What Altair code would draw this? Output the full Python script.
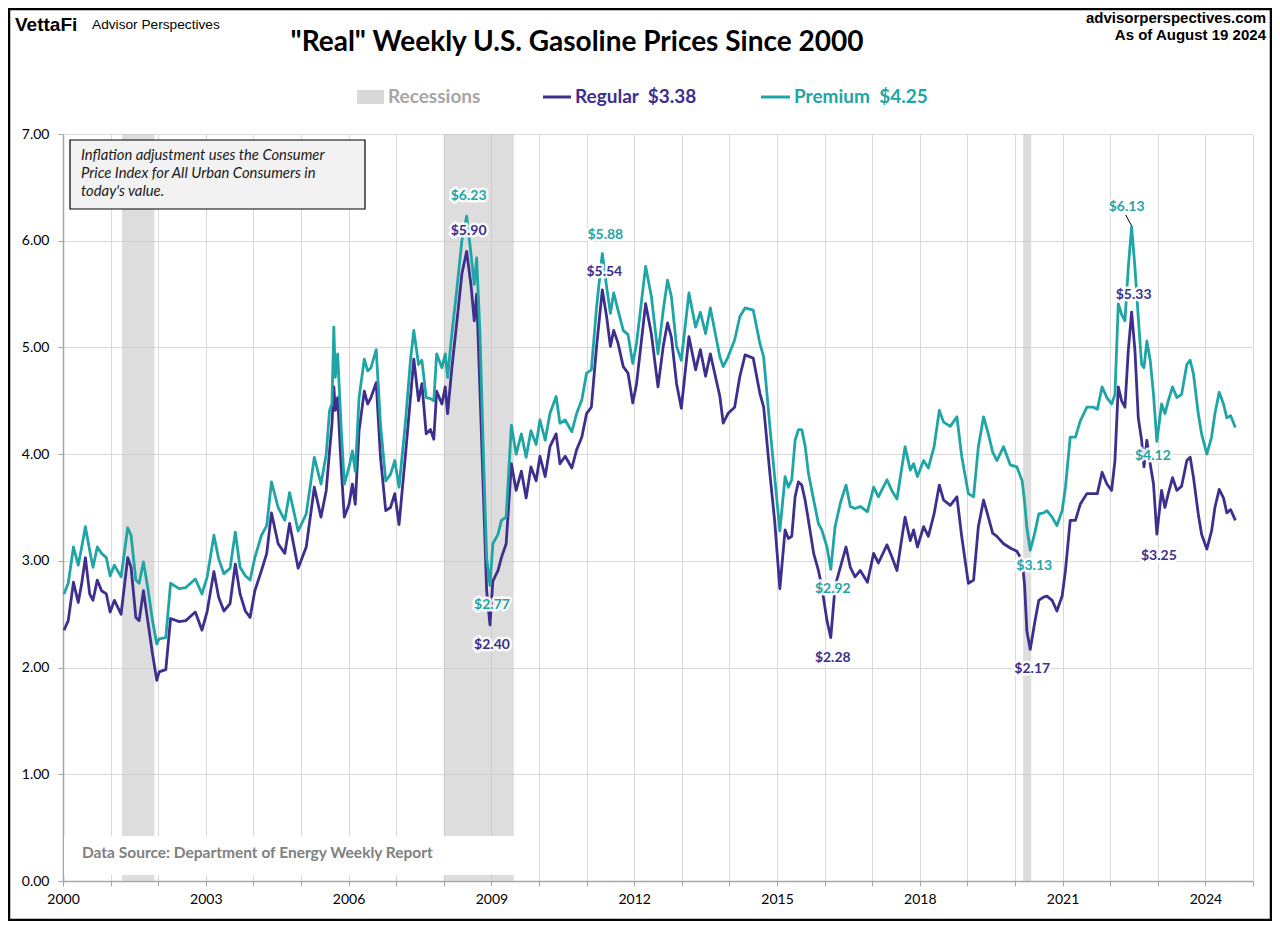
import altair as alt
import pandas as pd

# ---------------- data ----------------
years = [
    2000.02, 2000.11, 2000.22, 2000.32, 2000.39, 2000.47, 2000.56, 2000.63, 2000.72, 2000.81,
    2000.91, 2000.99, 2001.08, 2001.22, 2001.36, 2001.43, 2001.53, 2001.60, 2001.69, 2001.78,
    2001.88, 2001.97, 2002.02, 2002.16, 2002.26, 2002.44, 2002.58, 2002.78, 2002.92, 2003.03,
    2003.17, 2003.27, 2003.38, 2003.51, 2003.62, 2003.72, 2003.83, 2003.93, 2004.03, 2004.17,
    2004.28, 2004.38, 2004.52, 2004.66, 2004.76, 2004.94,
    2005.11, 2005.28, 2005.42, 2005.53, 2005.60, 2005.65, 2005.69, 2005.72, 2005.77, 2005.84,
    2005.91, 2006.01, 2006.08, 2006.14, 2006.22, 2006.33, 2006.40, 2006.47, 2006.58, 2006.67,
    2006.78, 2006.88, 2006.97, 2007.06, 2007.19, 2007.30, 2007.37, 2007.47, 2007.54, 2007.63,
    2007.72, 2007.79, 2007.85, 2007.96, 2008.03, 2008.08, 2008.17, 2008.27, 2008.38, 2008.48,
    2008.57, 2008.64, 2008.69, 2008.76, 2008.83, 2008.90, 2008.97, 2009.03, 2009.14, 2009.21,
    2009.31, 2009.42, 2009.52, 2009.63, 2009.73, 2009.83, 2009.94,
    2010.02, 2010.13, 2010.23, 2010.36, 2010.44, 2010.55, 2010.69, 2010.79, 2010.90, 2011.00,
    2011.10, 2011.21, 2011.33, 2011.42, 2011.50, 2011.57, 2011.66, 2011.77, 2011.87, 2011.97,
    2012.05, 2012.24, 2012.36, 2012.50, 2012.61, 2012.70, 2012.78, 2012.89, 2012.99, 2013.15,
    2013.29, 2013.39, 2013.50, 2013.60, 2013.69, 2013.80, 2013.87, 2013.97, 2014.11, 2014.22,
    2014.33, 2014.50, 2014.64, 2014.72, 2014.85, 2014.95,
    2015.06, 2015.17, 2015.24, 2015.31, 2015.38, 2015.45, 2015.52, 2015.59, 2015.66, 2015.77,
    2015.87, 2015.94, 2016.05, 2016.13, 2016.22, 2016.33, 2016.45, 2016.54, 2016.64, 2016.75,
    2016.90, 2017.03, 2017.13, 2017.31, 2017.41, 2017.52, 2017.69, 2017.80, 2017.87, 2017.95,
    2018.08, 2018.18, 2018.30, 2018.41, 2018.50, 2018.64, 2018.78, 2018.88, 2019.02, 2019.13,
    2019.23, 2019.34, 2019.44, 2019.53, 2019.62, 2019.76, 2019.90,
    2020.04, 2020.15, 2020.20, 2020.25, 2020.32, 2020.41, 2020.50, 2020.60, 2020.67, 2020.78,
    2020.88, 2020.99, 2021.06, 2021.16, 2021.27, 2021.37, 2021.51, 2021.65, 2021.73, 2021.83,
    2021.93, 2022.03, 2022.10, 2022.17, 2022.24, 2022.31, 2022.38, 2022.45, 2022.52, 2022.59,
    2022.66, 2022.71, 2022.77, 2022.84, 2022.91, 2022.98, 2023.08, 2023.15, 2023.22, 2023.31,
    2023.40, 2023.50, 2023.61, 2023.68, 2023.75, 2023.85, 2023.92, 2024.03, 2024.13, 2024.20,
    2024.29, 2024.38, 2024.45, 2024.53, 2024.63,
]

regular = [
    2.35, 2.44, 2.80, 2.61, 2.78, 3.03, 2.69, 2.63, 2.82, 2.72,
    2.69, 2.52, 2.63, 2.50, 3.03, 2.94, 2.47, 2.44, 2.72, 2.44,
    2.13, 1.88, 1.96, 1.98, 2.46, 2.43, 2.44, 2.52, 2.35, 2.53,
    2.90, 2.66, 2.53, 2.60, 2.97, 2.69, 2.53, 2.47, 2.72, 2.91,
    3.07, 3.45, 3.16, 3.07, 3.35, 2.93,
    3.13, 3.69, 3.41, 3.66, 4.03, 4.28, 4.63, 4.41, 4.53, 3.91,
    3.41, 3.53, 3.72, 3.53, 4.22, 4.59, 4.47, 4.53, 4.67, 3.97,
    3.47, 3.50, 3.63, 3.34, 3.97, 4.53, 4.89, 4.50, 4.66, 4.19,
    4.23, 4.14, 4.59, 4.47, 4.63, 4.38, 4.81, 5.22, 5.69, 5.90,
    5.59, 5.25, 5.50, 4.59, 3.66, 2.72, 2.40, 2.81, 2.91, 3.03,
    3.16, 3.91, 3.66, 3.84, 3.59, 3.88, 3.75,
    3.98, 3.79, 4.07, 4.19, 3.91, 3.98, 3.87, 4.04, 4.16, 4.38,
    4.44, 5.01, 5.54, 5.29, 5.01, 5.16, 5.04, 4.82, 4.76, 4.48,
    4.66, 5.41, 5.13, 4.63, 5.01, 5.23, 5.10, 4.66, 4.43, 5.10,
    4.79, 4.98, 4.73, 4.94, 4.76, 4.54, 4.29, 4.38, 4.44, 4.73,
    4.93, 4.90, 4.57, 4.44, 3.82, 3.38,
    2.74, 3.29, 3.21, 3.23, 3.60, 3.74, 3.71, 3.57, 3.38, 3.07,
    2.91, 2.76, 2.44, 2.28, 2.76, 2.94, 3.13, 2.94, 2.85, 2.91,
    2.80, 3.07, 2.98, 3.15, 3.04, 2.91, 3.41, 3.19, 3.29, 3.13,
    3.32, 3.23, 3.44, 3.71, 3.57, 3.52, 3.60, 3.23, 2.79, 2.82,
    3.32, 3.57, 3.41, 3.26, 3.23, 3.16, 3.12,
    3.09, 3.00, 2.78, 2.34, 2.17, 2.41, 2.63, 2.66, 2.67, 2.63,
    2.53, 2.67, 2.91, 3.38, 3.38, 3.53, 3.63, 3.63, 3.63, 3.83,
    3.72, 3.66, 3.94, 4.63, 4.50, 4.44, 4.97, 5.33, 4.97, 4.34,
    4.13, 3.88, 4.13, 3.91, 3.72, 3.25, 3.66, 3.50, 3.63, 3.78,
    3.66, 3.70, 3.94, 3.97, 3.78, 3.44, 3.25, 3.11, 3.28, 3.50,
    3.67, 3.59, 3.45, 3.48, 3.38,
]

premium = [
    2.69, 2.79, 3.13, 2.96, 3.12, 3.32, 3.10, 2.94, 3.13, 3.07,
    3.03, 2.86, 2.96, 2.85, 3.31, 3.24, 2.82, 2.79, 2.99, 2.75,
    2.44, 2.22, 2.27, 2.28, 2.79, 2.74, 2.75, 2.83, 2.69, 2.85,
    3.24, 3.02, 2.88, 2.93, 3.27, 2.94, 2.86, 2.82, 3.03, 3.24,
    3.33, 3.74, 3.50, 3.38, 3.64, 3.28,
    3.44, 3.97, 3.72, 4.00, 4.41, 4.47, 5.19, 4.72, 4.94, 4.28,
    3.72, 3.88, 4.03, 3.84, 4.53, 4.89, 4.78, 4.81, 4.98, 4.28,
    3.75, 3.81, 3.94, 3.69, 4.28, 4.88, 5.16, 4.84, 4.88, 4.53,
    4.52, 4.50, 4.94, 4.81, 4.94, 4.72, 5.13, 5.53, 6.00, 6.23,
    5.88, 5.59, 5.84, 5.13, 4.03, 3.03, 2.77, 3.16, 3.25, 3.38,
    3.41, 4.27, 4.00, 4.19, 3.97, 4.22, 4.09,
    4.32, 4.13, 4.38, 4.54, 4.29, 4.32, 4.21, 4.38, 4.51, 4.76,
    4.79, 5.38, 5.88, 5.57, 5.32, 5.51, 5.35, 5.16, 5.12, 4.85,
    5.04, 5.76, 5.48, 4.94, 5.35, 5.63, 5.48, 5.01, 4.88, 5.51,
    5.19, 5.33, 5.13, 5.37, 5.16, 4.91, 4.82, 4.91, 5.07, 5.29,
    5.37, 5.35, 5.04, 4.91, 4.26, 3.79,
    3.28, 3.79, 3.69, 3.76, 4.13, 4.23, 4.23, 4.08, 3.82, 3.57,
    3.35, 3.29, 3.13, 2.92, 3.32, 3.54, 3.71, 3.51, 3.49, 3.51,
    3.46, 3.69, 3.60, 3.76, 3.66, 3.58, 4.07, 3.85, 3.91, 3.79,
    3.94, 3.87, 4.07, 4.41, 4.30, 4.26, 4.35, 3.98, 3.63, 3.60,
    4.07, 4.35, 4.19, 4.02, 3.94, 4.07, 3.90,
    3.88, 3.75, 3.56, 3.31, 3.10, 3.25, 3.44, 3.45, 3.47, 3.41,
    3.33, 3.47, 3.69, 4.16, 4.16, 4.31, 4.44, 4.44, 4.42, 4.63,
    4.53, 4.47, 4.56, 5.41, 5.31, 5.25, 5.75, 6.13, 5.75, 5.28,
    4.84, 4.81, 5.06, 4.88, 4.56, 4.12, 4.47, 4.38, 4.50, 4.63,
    4.53, 4.56, 4.84, 4.88, 4.75, 4.38, 4.19, 4.00, 4.16, 4.38,
    4.58, 4.47, 4.34, 4.36, 4.25,
]

rec_start = [2001.24, 2008.00, 2020.17]
rec_end = [2001.92, 2009.47, 2020.34]

series_names = ["Regular", "Premium"]
series_colors = ["#3e2f8e", "#1fa5a5"]

# annotated extremes
ann_series = ["Premium", "Regular", "Premium", "Regular", "Premium", "Regular", "Premium",
              "Regular", "Premium", "Regular", "Premium", "Regular", "Premium", "Regular"]
ann_year = [2008.48, 2008.48, 2008.97, 2008.97, 2011.33, 2011.33, 2016.13,
            2016.13, 2020.32, 2020.32, 2022.45, 2022.45, 2022.98, 2022.98]
ann_text = ["$6.23", "$5.90", "$2.77", "$2.40", "$5.88", "$5.54", "$2.92",
            "$2.28", "$3.13", "$2.17", "$6.13", "$5.33", "$4.12", "$3.25"]
ann_dx = [2, 2, 2, 2, 3, 2, 2, 2, 4, 2, -5, 2, -4, 2]
ann_dy = [-20, -20, 20, 20, -19, -18, 20, 20, 16, 20, -20, -17, 15, 22]

x_ticks = list(range(2000, 2026))
y_ticks = [0, 1, 2, 3, 4, 5, 6, 7]

# ---------------- layout ----------------
W, H = 1190, 747
FONT = "Lato"
GRID = "#d9d9d9"
AXC = "#a6a6a6"

xscale = alt.Scale(domain=[2000, 2025], nice=False, zero=False)
yscale = alt.Scale(domain=[0, 7], nice=False)
xax = alt.Axis(values=x_ticks, format="d", labelExpr="datum.value % 3 == 2 ? datum.label : ''",
               grid=True, gridColor=GRID, gridWidth=1, tickColor=AXC, tickSize=5,
               domainColor=AXC, domainWidth=1.5, labelFont=FONT, labelFontSize=14,
               labelColor="black", labelPadding=6, title=None, labelFlush=False)
yax = alt.Axis(values=y_ticks, format=".2f", grid=True, gridColor=GRID, gridWidth=1,
               tickColor=AXC, tickSize=5, domainColor=AXC, domainWidth=1.5, labelFont=FONT,
               labelFontSize=14, labelColor="black", labelPadding=9, title=None)

dummy = pd.DataFrame({"k": [0]})


def txt(s, x, y, size, color="black", weight="normal", align="left", style="normal", font=FONT):
    return alt.Chart(dummy).mark_text(
        text=s, fontSize=size, color=color, fontWeight=weight, align=align,
        fontStyle=style, font=font, baseline="middle"
    ).encode(x=alt.value(x), y=alt.value(y))


lines_df = pd.DataFrame({"year": years, "Regular": regular, "Premium": premium})
rec_df = pd.DataFrame({"start": rec_start, "end": rec_end})

recessions = alt.Chart(rec_df).mark_rect(color="#c4c4c4", opacity=0.58).encode(
    x=alt.X("start:Q", scale=xscale, axis=xax),
    x2="end:Q",
    y=alt.value(0),
    y2=alt.value(H),
)

src_box = alt.Chart(dummy).mark_rect(color="white").encode(
    x=alt.value(1), x2=alt.value(476), y=alt.value(702), y2=alt.value(741))
src_text = txt("Data Source: Department of Energy Weekly Report", 19, 719, 15.5,
               color="#808080", weight="bold")

lines = alt.Chart(lines_df).transform_fold(
    series_names, as_=["series", "price"]
).mark_line(strokeWidth=2.8, strokeJoin="round").encode(
    x=alt.X("year:Q", scale=xscale, axis=xax),
    y=alt.Y("price:Q", scale=yscale, axis=yax),
    color=alt.Color("series:N", scale=alt.Scale(domain=series_names, range=series_colors), legend=None),
    detail="series:N",
)

ann_layers = []
for s, yr, t, dx, dy in zip(ann_series, ann_year, ann_text, ann_dx, ann_dy):
    idx = years.index(yr)
    val = premium[idx] if s == "Premium" else regular[idx]
    col = series_colors[series_names.index(s)]
    adf = pd.DataFrame({"year": [yr], "price": [val]})
    enc = dict(x=alt.X("year:Q", scale=xscale, axis=xax), y=alt.Y("price:Q", scale=yscale, axis=yax))
    ann_layers.append(alt.Chart(adf).mark_text(
        text=t, font=FONT, fontSize=14, fontWeight="bold", dx=dx, dy=dy,
        fill="white", stroke="white", strokeWidth=5, strokeJoin="round", opacity=0.9
    ).encode(**enc))
    ann_layers.append(alt.Chart(adf).mark_text(
        text=t, font=FONT, fontSize=14, fontWeight="bold", dx=dx, dy=dy, color=col
    ).encode(**enc))
    if t == "$6.13":
        ann_layers.append(alt.Chart(adf).mark_rule(
            color="black", strokeWidth=1, xOffset=-6, yOffset=-12, x2Offset=0, y2Offset=-1
        ).encode(x=alt.X("year:Q", scale=xscale, axis=xax), x2="year:Q",
                 y=alt.Y("price:Q", scale=yscale, axis=yax), y2="price:Q"))

note_box = alt.Chart(dummy).mark_rect(fill="#f2f2f2", stroke="black", strokeWidth=1.2).encode(
    x=alt.value(7), x2=alt.value(302), y=alt.value(6), y2=alt.value(75))
note_lines = [
    txt("Inflation adjustment uses the Consumer", 18, 22, 14.8, color="#1a1a1a", style="italic"),
    txt("Price Index for All Urban Consumers in", 18, 40, 14.8, color="#1a1a1a", style="italic"),
    txt("today's value.", 18, 58, 14.8, color="#1a1a1a", style="italic"),
]

header = [
    txt("VettaFi", -48, -109, 19, weight="bold", font="Liberation Sans"),
    txt("Advisor Perspectives", 29, -109, 13.7, font="Liberation Sans"),
    txt("advisorperspectives.com", 1203, -116, 15, weight="bold", align="right", font="Liberation Sans"),
    txt("As of August 19 2024", 1203, -99, 15, weight="bold", align="right", font="Liberation Sans"),
    txt('"Real" Weekly U.S. Gasoline Prices Since 2000', 514, -91, 28, weight="bold", align="center"),
]

legend_items = [
    alt.Chart(dummy).mark_rect(color="#d9d9d9").encode(
        x=alt.value(294), x2=alt.value(321), y=alt.value(-44), y2=alt.value(-30)),
    txt("Recessions", 325, -37, 19, color="#a6a6a6", weight="bold"),
    alt.Chart(dummy).mark_rule(color=series_colors[0], strokeWidth=3).encode(
        x=alt.value(480), x2=alt.value(508), y=alt.value(-37)),
    txt("Regular\u00a0\u00a0$3.38", 512, -37, 19, color=series_colors[0], weight="bold"),
    alt.Chart(dummy).mark_rule(color=series_colors[1], strokeWidth=3).encode(
        x=alt.value(698), x2=alt.value(727), y=alt.value(-37)),
    txt("Premium\u00a0\u00a0$4.25", 731, -37, 19, color=series_colors[1], weight="bold"),
]

frame = alt.Chart(dummy).mark_rect(fillOpacity=0, stroke="black", strokeWidth=2.5).encode(
    x=alt.value(-54), x2=alt.value(W + 18), y=alt.value(-125), y2=alt.value(H + 39))

chart = alt.layer(
    recessions, src_box, src_text, lines, *ann_layers, note_box, *note_lines,
    *header, *legend_items, frame
).properties(
    width=W, height=H,
    autosize=alt.AutoSizeParams(type="none"),
    padding={"left": 55, "top": 126, "right": 19, "bottom": 40},
).configure_view(stroke=None)

chart.save("out.html", embed_options={"renderer": "svg", "actions": False})
